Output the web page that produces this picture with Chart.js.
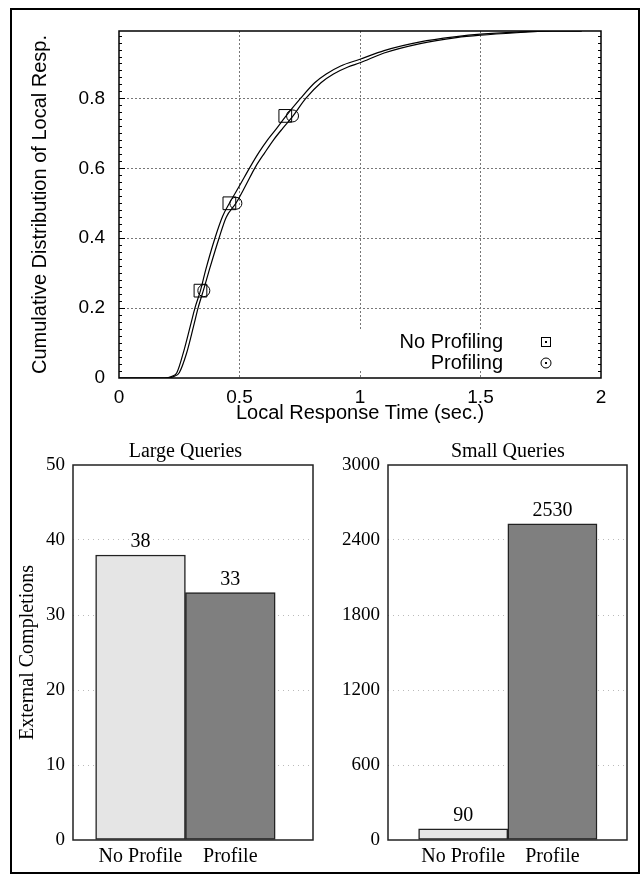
<!DOCTYPE html>
<html>
<head>
<meta charset="utf-8">
<script src="https://cdn.jsdelivr.net/npm/chart.js@4/dist/chart.umd.min.js"></script>
<style>
  body { margin: 0; background: #fff; }
  #page { position: relative; width: 640px; height: 875px; }
  canvas { position: absolute; }
  #frame { position: absolute; left: 10px; top: 8px; width: 630px; height: 866px; box-sizing: border-box; border: 2px solid #000; pointer-events: none; }
</style>
</head>
<body>
<div id="page">
  <canvas id="cdf" width="640" height="430" style="left:0;top:0"></canvas>
  <canvas id="large" width="320" height="445" style="left:0;top:430px"></canvas>
  <canvas id="small" width="320" height="445" style="left:320px;top:430px"></canvas>
  <div id="frame"></div>
</div>
<script>
const Chart = window.Chart;

// --- top chart: CDF of local response time ---
const seriesNames = ['No Profiling', 'Profiling'];
const fractionTicks = [0, 0.2, 0.4, 0.6, 0.8];
const timeTicks = [0, 0.5, 1, 1.5, 2];

const noProfTime = [0, 0.19, 0.22, 0.24, 0.27, 0.30, 0.315, 0.338, 0.36, 0.398, 0.43, 0.458, 0.50, 0.545, 0.58, 0.618, 0.655, 0.69, 0.753, 0.812, 0.86, 0.92, 1.00, 1.10, 1.25, 1.40, 1.50, 1.65, 1.80, 1.92];
const noProfFrac = [0, 0, 0.005, 0.015, 0.08, 0.16, 0.20, 0.25, 0.31, 0.40, 0.463, 0.50, 0.55, 0.605, 0.645, 0.683, 0.715, 0.747, 0.80, 0.845, 0.87, 0.893, 0.912, 0.937, 0.962, 0.977, 0.984, 0.99, 0.993, 0.993];

const profTime = [0, 0.20, 0.23, 0.25, 0.28, 0.31, 0.328, 0.352, 0.375, 0.415, 0.445, 0.485, 0.525, 0.567, 0.605, 0.643, 0.68, 0.72, 0.775, 0.838, 0.89, 0.95, 1.00, 1.10, 1.25, 1.40, 1.50, 1.65, 1.80, 1.92];
const profFrac = [0, 0, 0.005, 0.015, 0.07, 0.15, 0.20, 0.255, 0.31, 0.40, 0.46, 0.50, 0.55, 0.605, 0.645, 0.683, 0.715, 0.748, 0.80, 0.845, 0.87, 0.89, 0.902, 0.93, 0.957, 0.974, 0.981, 0.988, 0.993, 0.993];

const markerFrac = [0.25, 0.5, 0.75];
const noProfMarkerTime = [0.338, 0.458, 0.69];
const profMarkerTime = [0.352, 0.485, 0.72];

// --- bottom charts: external completions ---
const barCategories = ['No Profile', 'Profile'];
const largeQueries = [38, 33];
const smallQueries = [90, 2530];
const largeTicks = [0, 10, 20, 30, 40, 50];
const smallTicks = [0, 600, 1200, 1800, 2400, 3000];

function toPoints(xs, ys) {
    return xs.map((x, i) => ({x: x, y: ys[i]}));
}

const sansFont = '"Liberation Sans", Arial, sans-serif';
const serifFont = '"Liberation Serif", "Times New Roman", serif';

//grid, minor ticks, legend and frame for the cdf plot
const cdfDecor = {
    id: 'cdfDecor',
    beforeDatasetsDraw(chart) {
        const {ctx, chartArea: a} = chart;
        ctx.save();
        ctx.fillStyle = '#fff';
        ctx.fillRect(a.right - 250, a.bottom - 47, 240, 38);
        ctx.restore();
    },
    afterDatasetsDraw(chart) {
        const {ctx, chartArea: a, scales: {y}} = chart;
        ctx.save();
        ctx.strokeStyle = '#000';
        ctx.lineWidth = 1;
        for (let i = 1; i * 0.02 < y.max; i++) {
            const py = Math.round(y.getPixelForValue(i * 0.02)) + 0.5;
            const len = i % 10 == 0 ? 6 : 3;
            ctx.beginPath();
            ctx.moveTo(a.left, py); ctx.lineTo(a.left + len, py);
            ctx.moveTo(a.right, py); ctx.lineTo(a.right - len, py);
            ctx.stroke();
        }
        // legend
        ctx.font = '20px ' + sansFont;
        ctx.fillStyle = '#000';
        ctx.textAlign = 'right';
        ctx.textBaseline = 'middle';
        const lx = a.right - 98, mx = a.right - 55;
        const ly = [a.bottom - 36, a.bottom - 15];
        ctx.fillText(seriesNames[0], lx, ly[0]);
        ctx.fillText(seriesNames[1], lx, ly[1]);
        ctx.strokeRect(mx - 4.5, ly[0] - 4.5, 9, 9);
        ctx.beginPath();
        ctx.arc(mx, ly[1], 5, 0, Math.PI * 2);
        ctx.stroke();
        ctx.fillRect(mx - 1, ly[0] - 1, 2, 2);
        ctx.fillRect(mx - 1, ly[1] - 1, 2, 2);
        // frame
        ctx.lineWidth = 1.5;
        ctx.strokeRect(a.left, a.top, a.right - a.left, a.bottom - a.top);
        ctx.restore();
    }
};

const gridColor = function(ctx) {
    const v = ctx.tick ? ctx.tick.value : 0;
    const s = ctx.scale;
    return (v <= s.min || v >= s.max) ? 'rgba(0,0,0,0)' : '#777';
};

const cdfChart = new Chart(document.getElementById('cdf'), {
    type: 'scatter',
    data: {
        datasets: [
            {data: toPoints(noProfTime, noProfFrac), showLine: true, borderColor: '#000', borderWidth: 1.2, pointRadius: 0, cubicInterpolationMode: 'monotone'},
            {data: toPoints(profTime, profFrac), showLine: true, borderColor: '#000', borderWidth: 1.2, pointRadius: 0, cubicInterpolationMode: 'monotone'},
            {data: toPoints(noProfMarkerTime, markerFrac), pointStyle: 'rect', pointRadius: 9, borderColor: '#000', borderWidth: 1, backgroundColor: 'rgba(0,0,0,0)'},
            {data: toPoints(profMarkerTime, markerFrac), pointStyle: 'circle', pointRadius: 6, borderColor: '#000', borderWidth: 1, backgroundColor: 'rgba(0,0,0,0)'}
        ]
    },
    options: {
        responsive: false,
        animation: false,
        events: [],
        layout: { padding: {left: 0, right: 39, top: 31, bottom: 5} },
        plugins: { legend: {display: false}, tooltip: {enabled: false} },
        scales: {
            x: {
                type: 'linear', min: 0, max: 2,
                afterBuildTicks: scale => { scale.ticks = timeTicks.map(v => ({value: v})); },
                afterFit: scale => { scale.height = 47; },
                ticks: { padding: 8, color: '#000', font: {family: sansFont, size: 19}, callback: value => String(value) },
                grid: { drawTicks: false, color: gridColor, lineWidth: 1 },
                border: { display: false, dash: [2, 2] },
                title: { display: true, text: 'Local Response Time (sec.)', color: '#000', font: {family: sansFont, size: 20}, padding: {top: 0, bottom: 0} }
            },
            y: {
                type: 'linear', min: 0, max: 0.993,
                afterBuildTicks: scale => { scale.ticks = fractionTicks.map(v => ({value: v})); },
                afterFit: scale => { scale.width = 119; },
                ticks: { padding: 14, color: '#000', font: {family: sansFont, size: 19}, callback: value => String(value) },
                grid: { drawTicks: false, color: gridColor, lineWidth: 1 },
                border: { display: false, dash: [2, 2] },
                title: { display: true, text: 'Cumulative Distribution of Local Resp.', color: '#000', font: {family: sansFont, size: 20}, padding: {top: 28, bottom: 0} }
            }
        }
    },
    plugins: [cdfDecor]
});

//value labels, title and frame for the bar plots
const barDecor = {
    id: 'barDecor',
    afterDatasetsDraw(chart) {
        const {ctx, chartArea: a, scales: {x}} = chart;
        const ds = chart.data.datasets[0];
        const meta = chart.getDatasetMeta(0);
        ctx.save();
        ctx.font = '20px ' + serifFont;
        ctx.fillStyle = '#000';
        ctx.textAlign = 'center';
        ctx.textBaseline = 'middle';
        meta.data.forEach((bar, i) => {
            ctx.fillText(String(ds.data[i].y), bar.x, bar.y - 13);
        });
        ctx.fillText(chart.options.plugins.barDecor.title, x.getPixelForValue(0.5), a.top - 13);
        ctx.strokeStyle = '#222';
        ctx.lineWidth = 1.5;
        ctx.strokeRect(a.left, a.top, a.right - a.left, a.bottom - a.top);
        ctx.restore();
    }
};

function createBarChart(canvasId, title, values, yTicks, xMin, xMax, axisWidth, padRight, yTitle) {
    const lightDark = ['#e5e5e5', '#7f7f7f'];
    return new Chart(document.getElementById(canvasId), {
        type: 'bar',
        data: {
            datasets: [{
                data: values.map((v, i) => ({x: i, y: v})),
                backgroundColor: lightDark,
                borderColor: '#222',
                borderWidth: 1.5,
                borderSkipped: false,
                barPercentage: 1,
                categoryPercentage: 1
            }]
        },
        options: {
            responsive: false,
            animation: false,
            events: [],
            layout: { padding: {left: 0, right: padRight, top: 35, bottom: 0} },
            plugins: { legend: {display: false}, tooltip: {enabled: false}, barDecor: {title: title} },
            scales: {
                x: {
                    type: 'linear', min: xMin, max: xMax, offset: false,
                    afterBuildTicks: scale => { scale.ticks = barCategories.map((c, i) => ({value: i})); },
                    afterFit: scale => { scale.height = 35; },
                    ticks: { padding: 5, color: '#000', font: {family: serifFont, size: 20},
                        callback: value => barCategories[value] },
                    grid: { display: false, drawTicks: false },
                    border: { display: false }
                },
                y: {
                    type: 'linear', min: 0, max: yTicks[yTicks.length - 1],
                    afterBuildTicks: scale => { scale.ticks = yTicks.map(v => ({value: v})); },
                    afterFit: scale => { scale.width = axisWidth; },
                    ticks: { padding: 8, color: '#000', font: {family: serifFont, size: 19}, callback: value => String(value) },
                    grid: { drawTicks: false, lineWidth: 1,
                        color: ctx => (ctx.tick && ctx.tick.value > 0 && ctx.tick.value < ctx.scale.max) ? '#bbb' : 'rgba(0,0,0,0)' },
                    border: { display: false, dash: [1, 4] },
                    title: { display: !!yTitle, text: yTitle || '', color: '#000', font: {family: serifFont, size: 20}, padding: {top: 16, bottom: 0} }
                }
            }
        },
        plugins: [barDecor]
    });
}

const largeChart = createBarChart('large', 'Large Queries', largeQueries, largeTicks, -0.752, 1.921, 73, 7, 'External Completions');
const smallChart = createBarChart('small', 'Small Queries', smallQueries, smallTicks, -0.843, 1.836, 68, 13, '');
</script>
</body>
</html>
